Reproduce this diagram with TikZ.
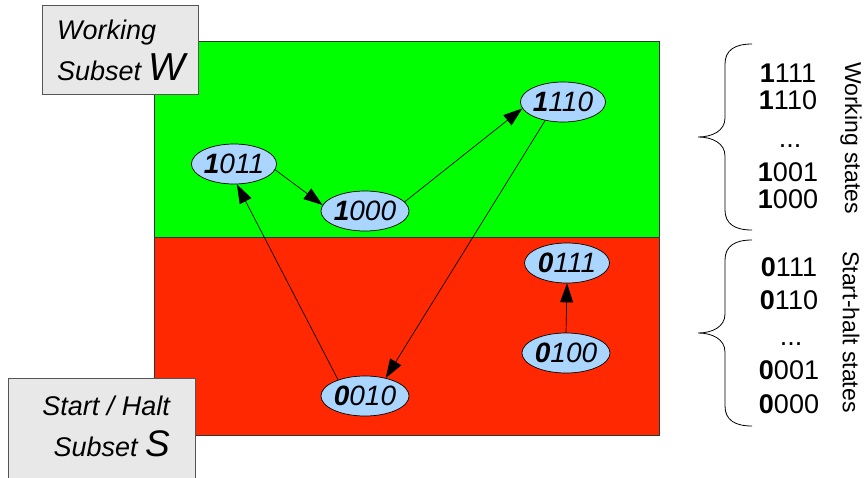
\documentclass[tikz,border=0pt]{standalone}
\usepackage{fontspec}
\setmainfont{Liberation Sans}
\usetikzlibrary{arrows.meta,shapes.geometric}
\definecolor{wgreen}{HTML}{00FF00}
\definecolor{sred}{HTML}{FF2800}
\definecolor{stateblue}{HTML}{AAD5FF}
\definecolor{boxgray}{HTML}{E8E8E8}
\definecolor{boxline}{HTML}{555555}
\begin{document}
\begin{tikzpicture}[x=1pt,y=-1pt,
  state/.style={ellipse, draw=black, line width=0.7pt, fill=stateblue,
    minimum width=85pt, minimum height=40pt, inner sep=0pt,
    font=\fontsize{28}{30}\selectfont\itshape},
  link/.style={draw=black, line width=0.7pt, -{Triangle[length=19pt,width=13pt]}},
  region/.style={line width=0.8pt, draw=black!80},
  subsetbox/.style={fill=boxgray, draw=boxline, line width=0.8pt},
  boxtxt/.style={inner sep=0pt, font=\fontsize{27}{30}\selectfont\itshape},
  listtxt/.style={inner sep=0pt, font=\fontsize{27}{30}\selectfont},
  sidetxt/.style={inner sep=0pt, rotate=-90, font=\fontsize{23}{26}\selectfont},
  bracepath/.style={line width=0.8pt, draw=black}
]
\useasboundingbox (0,0) rectangle (865,477);
% regions
\fill[wgreen] (154,41) rectangle (659,237);
\fill[sred] (154,237) rectangle (659,435);
\draw[region] (154,41) rectangle (659,237);
\draw[region] (154,237) rectangle (659,435);
% subset boxes
\draw[subsetbox] (42,5) rectangle (198,94);
\node[boxtxt, anchor=base west] (wt1) at (57,39) {Working};
\node[boxtxt, anchor=base west] (wt2) at (57,80) {Subset {\fontsize{39}{40}\selectfont W}};
\draw[subsetbox] (8,378) rectangle (195,480);
\node[boxtxt, anchor=base east] (st1) at (170,415) {Start / Halt};
\node[boxtxt, anchor=base east] (st2) at (170,456) {Subset {\fontsize{37}{40}\selectfont S}};
% states
\node[state] (n1011) at (234,164) {\textbf{1}011};
\node[state] (n1000) at (365,211) {\textbf{1}000};
\node[state] (n1110) at (563,102) {\textbf{1}110};
\node[state] (n0111) at (567,263) {\textbf{0}111};
\node[state] (n0100) at (566,353) {\textbf{0}100};
\node[state] (n0010) at (365,396) {\textbf{0}010};
% transitions
\draw[link] (n0010.149) -- (n1011.278);
\draw[link] (n1011.352) -- (n1000.172);
\draw[link] (n1000.13) -- (n1110.189);
\draw[link] (n1110.226) -- (n0010.41);
\draw[link] (n0100.north) -- (n0111.south);
% braces
\draw[bracepath] (752,44) .. controls (735,44) and (725,50) .. (725,64) -- (725,118)
  .. controls (725,131) and (712,137) .. (698,137)
  .. controls (712,137) and (725,143) .. (725,156) -- (725,210)
  .. controls (725,224) and (735,230) .. (752,230);
\draw[bracepath] (752,240) .. controls (735,240) and (725,246) .. (725,260) -- (725,314)
  .. controls (725,327) and (712,333) .. (698,333)
  .. controls (712,333) and (725,339) .. (725,352) -- (725,406)
  .. controls (725,420) and (735,426) .. (752,426);
% state lists
\node[listtxt] (w1) at (788,73) {\textbf{1}111};
\node[listtxt] (w2) at (788,100) {\textbf{1}110};
\node[listtxt, anchor=base] (w3) at (790,147) {...};
\node[listtxt] (w4) at (788,172) {\textbf{1}001};
\node[listtxt] (w5) at (788,199) {\textbf{1}000};
\node[listtxt] (s1) at (789,267) {\textbf{0}111};
\node[listtxt] (s2) at (789,300) {\textbf{0}110};
\node[listtxt, anchor=base] (s3) at (791,345) {...};
\node[listtxt] (s4) at (789,370) {\textbf{0}001};
\node[listtxt] (s5) at (789,404) {\textbf{0}000};
\node[sidetxt] (wlab) at (851,138) {Working states};
\node[sidetxt] (slab) at (851,332) {Start-halt states};
\end{tikzpicture}
\end{document}
